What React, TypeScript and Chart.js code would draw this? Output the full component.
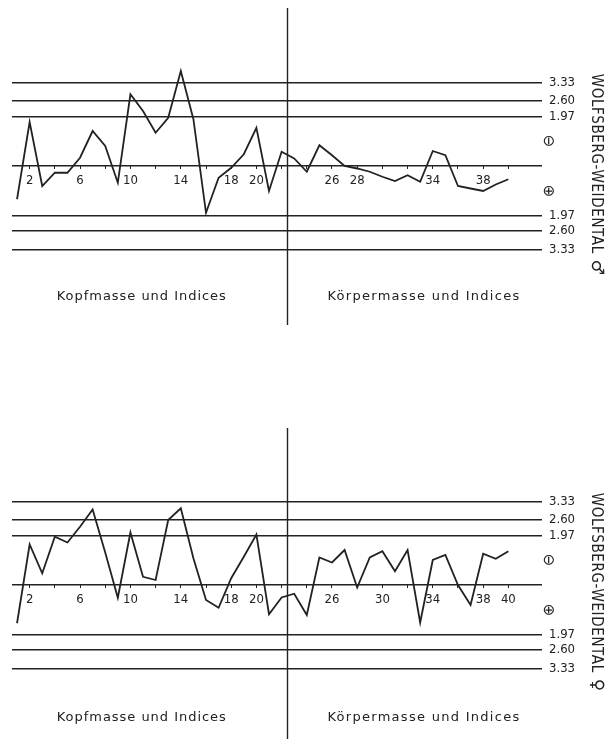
import React, { useEffect, useRef } from "react";
import { Chart, registerables } from "chart.js";

Chart.register(...registerables);

// ---- data ----
const POSITIONS = [1, 2, 3, 4, 5, 6, 7, 8, 9, 10, 11, 12, 13, 14, 15, 16, 17, 18, 19, 20, 21, 22, 23, 24, 25, 26, 27, 28, 29, 30, 31, 32, 33, 34, 35, 36, 37, 38, 39, 40];
const TICK_MARKS = [2, 4, 6, 8, 10, 12, 14, 16, 18, 20, 22, 24, 26, 28, 30, 32, 34, 36, 38, 40];
const LEVELS = [3.33, 2.6, 1.97, 0, -1.97, -2.6, -3.33];

const MALE_VALUES = [
  -1.33, 1.76, -0.8, -0.27, -0.27, 0.33, 1.4, 0.8, -0.67, 2.87,
  2.2, 1.33, 1.93, 3.8, 1.87, -1.87, -0.47, -0.07, 0.47, 1.53,
  -1.0, 0.57, 0.3, -0.23, 0.83, 0.43, 0.0, -0.1, -0.23, -0.43,
  -0.6, -0.37, -0.63, 0.6, 0.43, -0.8, -0.9, -1.0, -0.74, -0.53,
];
const FEMALE_VALUES = [
  -1.53, 1.62, 0.47, 1.93, 1.7, 2.33, 3.02, 1.3, -0.51, 2.1,
  0.33, 0.2, 2.6, 3.07, 1.07, -0.6, -0.91, 0.27, 1.13, 2.02,
  -1.17, -0.5, -0.35, -1.2, 1.1, 0.9, 1.4, -0.1, 1.1, 1.35,
  0.55, 1.4, -1.5, 1.0, 1.2, 0.0, -0.8, 1.25, 1.05, 1.35,
];
const MALE_LABELS = [2, 6, 10, 14, 18, 20, 26, 28, 34, 38];
const FEMALE_LABELS = [2, 6, 10, 14, 18, 20, 26, 30, 34, 38, 40];

const DIVIDER = 22.4;
const LEFT_CAPTION = "Kopfmasse und Indices";
const RIGHT_CAPTION = "Körpermasse und Indices";
const SIDE_TITLE = "WOLFSBERG-WEIDENTAL";

const INK = "#222";
const COND = '"DejaVu Sans Condensed", "DejaVu Sans", sans-serif';
const SANS = '"DejaVu Sans", sans-serif';

type PanelProps = {
  values: number[];
  labels: number[];
  sex: string;
  top: number;
  height: number;
  padTop: number;
  padBottom: number;
  lineTop: number;
  lineBottom: number;
  captionY: number;
};

function fitText(ctx: CanvasRenderingContext2D, text: string, target: number) {
  (ctx as any).letterSpacing = "0px";
  const w = ctx.measureText(text).width;
  const sp = (target - w) / Math.max(1, text.length);
  (ctx as any).letterSpacing = sp.toFixed(2) + "px";
}

function Panel(p: PanelProps) {
  const ref = useRef<HTMLCanvasElement | null>(null);
  useEffect(() => {
    const canvas = ref.current;
    if (!canvas) return;
    const decor = {
      id: "decor",
      afterDraw(chart: any) {
        const { ctx, chartArea, scales } = chart;
        const x = scales.x;
        const y = scales.y;
        ctx.save();
        ctx.strokeStyle = INK;
        ctx.fillStyle = INK;
        ctx.lineWidth = 1.4;
        const vx = Math.round(x.getPixelForValue(DIVIDER)) + 0.5;
        ctx.beginPath();
        ctx.moveTo(vx, p.lineTop);
        ctx.lineTo(vx, p.lineBottom);
        ctx.stroke();

        // captions
        ctx.font = `13px ${SANS}`;
        ctx.textAlign = "center";
        ctx.textBaseline = "middle";
        fitText(ctx, LEFT_CAPTION, 170);
        ctx.fillText(LEFT_CAPTION, x.getPixelForValue(10.9), p.captionY);
        fitText(ctx, RIGHT_CAPTION, 193);
        ctx.fillText(RIGHT_CAPTION, x.getPixelForValue(33.3), p.captionY);
        (ctx as any).letterSpacing = "0px";

        // sign symbols
        const sx = chartArea.right + 6;
        const drawRot = (txt: string, cx: number, cy: number, font: string) => {
          ctx.save();
          ctx.translate(cx, cy);
          ctx.rotate(Math.PI / 2);
          ctx.font = font;
          ctx.textAlign = "center";
          ctx.textBaseline = "middle";
          ctx.fillText(txt, 0, 0);
          ctx.restore();
        };
        drawRot("⊖", sx, y.getPixelForValue(1.0), `15px ${SANS}`);
        drawRot("⊕", sx, y.getPixelForValue(-1.0), `15px ${SANS}`);

        // side title
        const titleTop = y.getPixelForValue(3.33) - 9;
        ctx.save();
        ctx.translate(596, titleTop);
        ctx.rotate(Math.PI / 2);
        ctx.font = `15px ${COND}`;
        ctx.textAlign = "left";
        ctx.textBaseline = "middle";
        fitText(ctx, SIDE_TITLE, 180);
        ctx.fillText(SIDE_TITLE, 0, 0);
        (ctx as any).letterSpacing = "0px";
        ctx.font = `17px ${SANS}`;
        ctx.fillText(p.sex, 186, 0);
        ctx.restore();
        ctx.restore();
      },
    };
    const chart = new Chart(canvas, {
      type: "line",
      data: {
        datasets: [
          {
            data: POSITIONS.map((v, i) => ({ x: v, y: p.values[i] })),
            borderColor: INK,
            borderWidth: 1.8,
            pointRadius: 0,
            tension: 0,
            fill: false,
          },
        ],
      },
      options: {
        animation: false,
        responsive: false,
        devicePixelRatio: 1,
        layout: { padding: { left: 12, right: 0, top: p.padTop, bottom: p.padBottom } },
        plugins: { legend: { display: false }, tooltip: { enabled: false } },
        scales: {
          x: {
            type: "linear",
            min: 0.6,
            max: 42.67,
            position: { y: 0 },
            afterBuildTicks: (s: any) => {
              s.ticks = TICK_MARKS.map((v) => ({ value: v }));
            },
            grid: { drawOnChartArea: false, drawTicks: true, tickLength: 3, color: INK, lineWidth: 1 },
            border: { display: false },
            ticks: {
              autoSkip: false,
              maxRotation: 0,
              padding: 4,
              color: INK,
              font: { family: COND, size: 13 },
              callback: (v: any) => (p.labels.includes(Number(v)) ? String(v) : ""),
            },
          },
          y: {
            type: "linear",
            position: "right",
            min: -4,
            max: 4,
            afterFit: (s: any) => {
              s.width = 64;
            },
            afterBuildTicks: (s: any) => {
              s.ticks = LEVELS.map((v) => ({ value: v }));
            },
            grid: { color: INK, lineWidth: 1.4, drawTicks: false },
            border: { display: false },
            ticks: {
              padding: 7,
              color: INK,
              font: { family: COND, size: 13 },
              callback: (v: any) => (Number(v) === 0 ? "" : Math.abs(Number(v)).toFixed(2)),
            },
          },
        },
      } as any,
      plugins: [decor],
    });
    return () => chart.destroy();
  }, []);
  return (
    <canvas
      ref={ref}
      width={606}
      height={p.height}
      style={{ position: "absolute", left: 0, top: p.top, width: 606, height: p.height, display: "block" }}
    />
  );
}

export default function App() {
  return (
    <div style={{ position: "absolute", left: 0, top: 0, width: 606, height: 739, background: "#fff", overflow: "hidden" }}>
      <Panel
        values={MALE_VALUES}
        labels={MALE_LABELS}
        sex="♂"
        top={0}
        height={340}
        padTop={66}
        padBottom={74}
        lineTop={8}
        lineBottom={325}
        captionY={297}
      />
      <Panel
        values={FEMALE_VALUES}
        labels={FEMALE_LABELS}
        sex="♀"
        top={340}
        height={399}
        padTop={145}
        padBottom={54}
        lineTop={88}
        lineBottom={399}
        captionY={378}
      />
    </div>
  );
}
